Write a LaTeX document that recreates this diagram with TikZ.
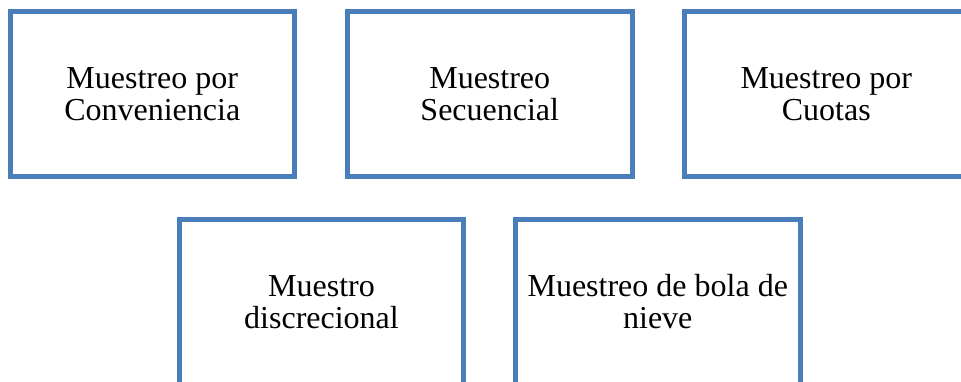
\documentclass[tikz,border=0pt]{standalone}
\usepackage{fontspec}
\setmainfont{Liberation Serif}
\definecolor{boxblue}{RGB}{74,126,187}

\begin{document}
\begin{tikzpicture}[x=1pt,y=-1pt]
\tikzstyle{every node}=[rectangle, draw=boxblue, line width=5pt, minimum width=284.5pt, minimum height=164.5pt, inner sep=0pt, align=center, font=\fontsize{32}{32}\selectfont]
\useasboundingbox (0,0) rectangle (961,381);
\clip (0,0) rectangle (961,381);
\draw (152.25,93.75) node (conv) {Muestreo por\\Conveniencia};
\draw (489.75,93.75) node (secu) {Muestreo\\Secuencial};
\draw (826.25,93.75) node (cuot) {Muestreo por\\Cuotas};
\draw (321.5,301.75) node (disc) {Muestro\\discrecional};
\draw (657.75,301.75) node (bola) {Muestreo de bola de\\nieve};
\end{tikzpicture}
\end{document}
